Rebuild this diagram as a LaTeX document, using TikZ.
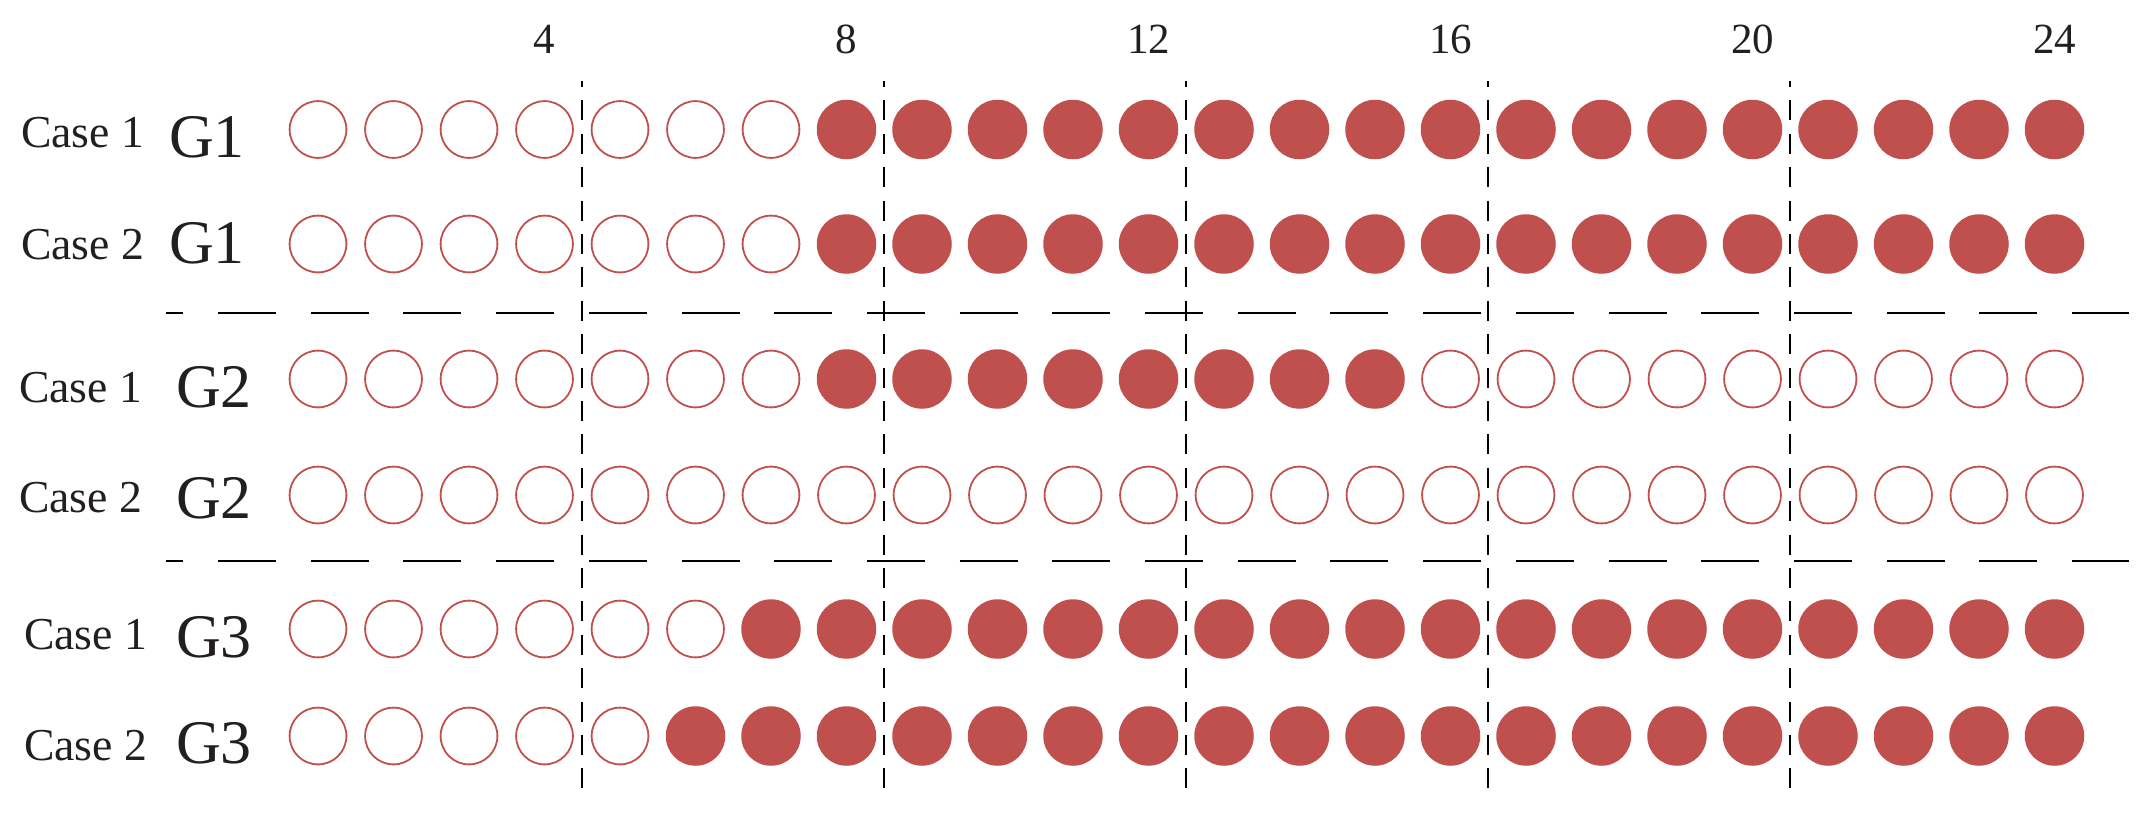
\documentclass[tikz,border=0pt]{standalone}
\usepackage{fontspec}
\setmainfont{Liberation Serif}
\definecolor{dotred}{RGB}{192,80,77}
\definecolor{txt}{RGB}{35,31,32}
\begin{document}
\begin{tikzpicture}[x=1pt,y=-1pt,
  opencirc/.style={circle,draw=dotred,line width=1.8pt,minimum size=56.8pt,inner sep=0pt,outer sep=0pt},
  fillcirc/.style={circle,fill=dotred,minimum size=59.5pt,inner sep=0pt,outer sep=0pt},
  caselbl/.style={anchor=base west,inner sep=0pt,text=txt,font=\fontsize{45.7}{50}\selectfont},
  glbl/.style={anchor=base west,inner sep=0pt,text=txt,font=\fontsize{62}{66}\selectfont},
  numlbl/.style={anchor=base,inner sep=0pt,text=txt,font=\fontsize{43}{46}\selectfont},
  vdash/.style={line width=2pt,dash pattern=on 20pt off 13.4pt,dash phase=14pt},
  hdash/.style={line width=1.9pt,dash pattern=on 58pt off 34.7pt,dash phase=40.7pt}]
\useasboundingbox (0,0) rectangle (2153,820);
% column numbers
\foreach \k in {4,8,12,16,20,24}{
  \pgfmathsetmacro\cx{318+(\k-1)*75.5}
  \node[numlbl] (n\k) at (\cx,53) {\k};
}
% row labels
\node[caselbl] (l1) at (21,147) {Case 1};
\node[glbl] (g1) at (169,157) {G1};
\node[caselbl] (l2) at (21,259) {Case 2};
\node[glbl] (g2) at (169,263) {G1};
\node[caselbl] (l3) at (19,402) {Case 1};
\node[glbl] (g3) at (176,407) {G2};
\node[caselbl] (l4) at (19,512) {Case 2};
\node[glbl] (g4) at (176,518) {G2};
\node[caselbl] (l5) at (24,649) {Case 1};
\node[glbl] (g5) at (176,657) {G3};
\node[caselbl] (l6) at (24,760) {Case 2};
\node[glbl] (g6) at (176,763) {G3};
% circles
\foreach \r/\y/\a/\b in {1/129.5/8/24, 2/244/8/24, 3/379/8/15, 4/495/99/0, 5/629/7/24, 6/736/6/24}{
  \foreach \i in {1,...,24}{
    \pgfmathsetmacro\cx{318+(\i-1)*75.5}
    \def\st{opencirc}
    \ifnum\i<\a\relax\else\ifnum\i>\b\relax\else\def\st{fillcirc}\fi\fi
    \node[\st] (c\r-\i) at (\cx,\y) {};
  }
}
% horizontal dashed separators
\coordinate (h1a) at (166,313);
\coordinate (h1b) at (2129,313);
\coordinate (h2a) at (166,561);
\coordinate (h2b) at (2129,561);
\draw[hdash] (h1a) -- (h1b);
\draw[hdash] (h2a) -- (h2b);
% vertical dashed separators
\foreach \k in {1,...,5}{
  \pgfmathsetmacro\vx{318+(4*\k-0.5)*75.5}
  \coordinate (v\k a) at (\vx,81);
  \coordinate (v\k b) at (\vx,800);
  \draw[vdash] (v\k a) -- (v\k b);
}
\end{tikzpicture}
\end{document}
